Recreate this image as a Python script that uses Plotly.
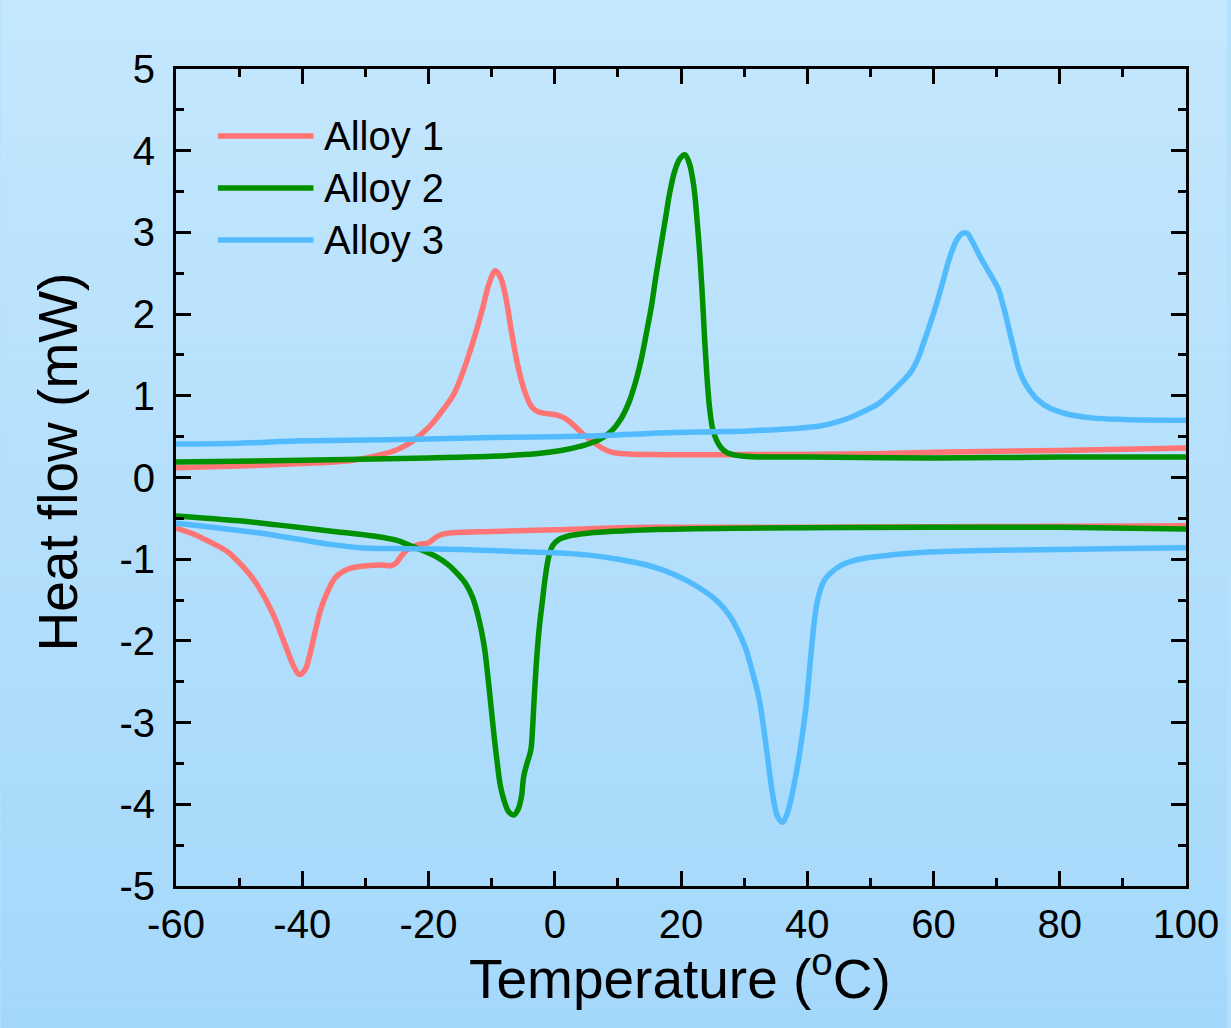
import plotly.graph_objects as go

# ---------------- data ----------------
a1_heat_T = [-60, -50, -40, -35, -32, -28, -25, -23, -21, -19.3, -17.5, -16, -14.5, -13, -11.5, -10.3, -9.4,
             -8.6, -7.8, -6.8, -5.8, -4.7, -3.6, -2.5, -1, 0.5, 1.7, 3, 4.5, 6, 7.5, 9, 11, 15, 30, 50, 60, 80, 100]
a1_heat_H = [0.12, 0.14, 0.17, 0.19, 0.21, 0.27, 0.34, 0.42, 0.54, 0.67, 0.85, 1.02, 1.30, 1.65, 2.05, 2.40, 2.53,
             2.45, 2.22, 1.76, 1.35, 1.04, 0.86, 0.80, 0.78, 0.76, 0.72, 0.64, 0.53, 0.44, 0.36, 0.31, 0.29, 0.28,
             0.28, 0.29, 0.31, 0.33, 0.36]
a1_cool_T = [-60, -57, -54.6, -52, -50.4, -48.5, -47, -44.7, -42.6, -41.3, -40.5, -39.6, -38.9, -38, -37.1, -36,
             -34.7, -33, -31, -27.3, -26, -25.2, -24.3, -23.3, -21.5, -20, -19, -18, -16.7, -10, 0, 15, 40, 70, 100]
a1_cool_H = [-0.62, -0.70, -0.79, -0.90, -1.01, -1.17, -1.33, -1.66, -2.07, -2.32, -2.41, -2.36, -2.20, -1.90, -1.62,
             -1.40, -1.22, -1.13, -1.09, -1.07, -1.08, -1.05, -0.96, -0.88, -0.82, -0.80, -0.74, -0.70, -0.68, -0.66,
             -0.64, -0.61, -0.61, -0.60, -0.59]

a2_heat_T = [-60, -40, -20, -10, -3, 1, 4, 7, 9, 10.5, 11.7, 12.8, 13.8, 14.6, 15.3, 16.0, 16.7, 17.5, 18.2, 19.0,
             19.8, 20.6, 21.3, 22.0, 22.6, 23.0, 23.4, 23.75, 24.1, 24.5, 25.0, 25.6, 26.4, 27.4, 30, 40, 60, 80, 100]
a2_heat_H = [0.19, 0.21, 0.24, 0.26, 0.29, 0.33, 0.38, 0.46, 0.57, 0.72, 0.91, 1.17, 1.48, 1.80, 2.09, 2.45, 2.78,
             3.15, 3.48, 3.75, 3.90, 3.95, 3.85, 3.58, 3.10, 2.70, 2.20, 1.68, 1.25, 0.87, 0.60, 0.46, 0.36, 0.30,
             0.26, 0.25, 0.24, 0.25, 0.25]
a2_cool_T = [-60, -50, -44, -35, -28.4, -25, -23, -21, -19, -17, -15.5, -14.1, -13, -12, -11.2, -10.7, -10.1, -9.6,
             -9.1, -8.6, -8.0, -7.3, -6.5, -5.8, -5.3, -4.9, -4.4, -3.8, -3.5, -3.3, -2.8, -2.4, -2.0, -1.5, -0.95,
             -0.3, 0.63, 2.5, 5.4, 15, 30, 60, 80, 100]
a2_cool_H = [-0.47, -0.53, -0.58, -0.66, -0.72, -0.77, -0.83, -0.89, -0.96, -1.06, -1.17, -1.30, -1.47, -1.74, -2.05,
             -2.36, -2.80, -3.17, -3.50, -3.78, -3.96, -4.09, -4.13, -4.06, -3.92, -3.65, -3.50, -3.34, -3.05, -2.76,
             -2.15, -1.80, -1.54, -1.22, -0.97, -0.83, -0.76, -0.71, -0.68, -0.64, -0.62, -0.61, -0.61, -0.63]

a3_heat_T = [-60, -50, -40, -30, -20, -10, 0, 7, 15, 25, 30.6, 38, 42, 44.8, 47, 49, 51, 52.6, 54.5, 56.3, 57.5,
             58.4, 59.5, 60.5, 61.6, 62.6, 63.7, 64.6, 65.3, 66.2, 67.4, 68.5, 69.5, 70.3, 70.8, 71.5, 72.1, 72.8,
             73.4, 74.2, 75.2, 76.5, 78.4, 81, 85, 90, 100]
a3_heat_H = [0.41, 0.42, 0.45, 0.46, 0.47, 0.49, 0.50, 0.51, 0.54, 0.56, 0.57, 0.60, 0.63, 0.68, 0.74, 0.81, 0.89,
             0.99, 1.13, 1.28, 1.45, 1.64, 1.89, 2.13, 2.43, 2.70, 2.91, 2.99, 2.99, 2.88, 2.70, 2.55, 2.42, 2.30,
             2.17, 1.97, 1.77, 1.55, 1.36, 1.20, 1.07, 0.95, 0.85, 0.78, 0.73, 0.71, 0.70]
a3_cool_T = [-60, -53, -46.8, -41, -36.3, -31, -25, -18.9, -11.5, -5, 0, 5.4, 10, 15, 19, 22.7, 25.85, 27.6, 29.0,
             30.2, 31.1, 32.4, 33.5, 34.5, 35.3, 36.1, 36.8, 37.4, 38.7, 39.8, 40.3, 40.8, 41.3, 41.9, 42.7, 43.7,
             45.5, 47.7, 52, 60, 70, 80, 90, 100]
a3_cool_H = [-0.56, -0.62, -0.68, -0.75, -0.81, -0.86, -0.87, -0.875, -0.89, -0.91, -0.92, -0.95, -1.00, -1.08,
             -1.19, -1.34, -1.52, -1.68, -1.87, -2.08, -2.32, -2.72, -3.30, -3.87, -4.15, -4.22, -4.12, -3.95, -3.42,
             -2.81, -2.40, -1.99, -1.65, -1.42, -1.26, -1.17, -1.07, -1.01, -0.96, -0.91, -0.89, -0.88, -0.87, -0.86]

series_names = ["Alloy 1", "Alloy 2", "Alloy 3"]
series_colors = ["#ff7474", "#009000", "#52bbfd"]

x_tick_vals = [-60, -40, -20, 0, 20, 40, 60, 80, 100]
x_tick_text = ["-60", "-40", "-20", "0", "20", "40", "60", "80", "100"]
y_tick_vals = [-5, -4, -3, -2, -1, 0, 1, 2, 3, 4, 5]
y_tick_text = ["-5", "-4", "-3", "-2", "-1", "0", "1", "2", "3", "4", "5"]

x_title = "Temperature (<sup>o</sup>C)"
y_title = "Heat flow (mW)"

# ---------------- figure ----------------
FONT = "Liberation Sans, Arial, sans-serif"
W, H = 1231, 1028
ML, MR, MT, MB = 176, 41, 69, 142
PW, PH = W - ML - MR, H - MT - MB


def px_to_paper_x(px):
    return (px - ML) / PW


def px_to_paper_y(py):
    return (H - MB - py) / PH


fig = go.Figure()
segments = [
    (a1_heat_T, a1_heat_H, a1_cool_T, a1_cool_H),
    (a2_heat_T, a2_heat_H, a2_cool_T, a2_cool_H),
    (a3_heat_T, a3_heat_H, a3_cool_T, a3_cool_H),
]
for name, color, (hT, hH, cT, cH) in zip(series_names, series_colors, segments):
    fig.add_trace(go.Scatter(
        x=list(hT) + [None] + list(cT),
        y=list(hH) + [None] + list(cH),
        mode="lines", name=name, connectgaps=False,
        line=dict(color=color, width=5.5, shape="spline", smoothing=1.0),
        showlegend=False,
    ))

# background gradient (vertical)
top_rgb = (196, 231, 253)
bot_rgb = (164, 216, 251)
nb = 64
shapes = []
for i in range(nb):
    f = i / (nb - 1)
    c = tuple(round(top_rgb[k] + (bot_rgb[k] - top_rgb[k]) * f) for k in range(3))
    shapes.append(dict(type="rect", xref="paper", yref="paper",
                       x0=px_to_paper_x(0), x1=px_to_paper_x(W),
                       y0=px_to_paper_y((i + 1) * H / nb) - 0.002, y1=px_to_paper_y(i * H / nb) + 0.002,
                       fillcolor="rgb(%d,%d,%d)" % c, line=dict(width=0), layer="below"))

# custom legend (long line samples like the reference)
annotations = []
leg_y_px = [136, 188, 240]
for name, color, py in zip(series_names, series_colors, leg_y_px):
    yp = px_to_paper_y(py)
    shapes.append(dict(type="line", xref="paper", yref="paper",
                       x0=px_to_paper_x(218), x1=px_to_paper_x(314), y0=yp, y1=yp,
                       line=dict(color=color, width=5.5), layer="above"))
    annotations.append(dict(xref="paper", yref="paper", x=px_to_paper_x(323), y=yp,
                            xanchor="left", yanchor="middle", text=name, showarrow=False,
                            font=dict(family=FONT, size=40, color="black")))

# axis titles
annotations.append(dict(xref="paper", yref="paper", x=px_to_paper_x(682), y=px_to_paper_y(975),
                        xanchor="center", yanchor="middle", text=x_title, showarrow=False,
                        font=dict(family=FONT, size=55, color="black")))
annotations.append(dict(xref="paper", yref="paper", x=px_to_paper_x(58), y=px_to_paper_y(462),
                        xanchor="center", yanchor="middle", text=y_title, showarrow=False, textangle=-90,
                        font=dict(family=FONT, size=55, color="black")))

axis_common = dict(
    showline=True, linecolor="black", linewidth=3, mirror="allticks",
    ticks="inside", ticklen=15, tickwidth=3, tickcolor="black",
    showgrid=False, zeroline=False,
    tickfont=dict(family=FONT, size=40, color="black"),
    tickmode="array",
)
fig.update_layout(
    width=W, height=H,
    margin=dict(l=ML, r=MR, t=MT, b=MB, pad=0),
    paper_bgcolor="#b4e0fb", plot_bgcolor="rgba(0,0,0,0)",
    shapes=shapes, annotations=annotations,
    showlegend=False,
    xaxis=dict(axis_common, range=[-60, 100], tickvals=x_tick_vals, ticktext=x_tick_text,
               minor=dict(dtick=10, tick0=-60, ticks="inside", ticklen=8, tickwidth=3, tickcolor="black"),
               ticklabelstandoff=1),
    yaxis=dict(axis_common, range=[-5, 5], tickvals=y_tick_vals, ticktext=y_tick_text,
               minor=dict(dtick=0.5, tick0=-5, ticks="inside", ticklen=8, tickwidth=3, tickcolor="black"),
               ticklabelstandoff=10),
)

fig.write_html("out.html")
